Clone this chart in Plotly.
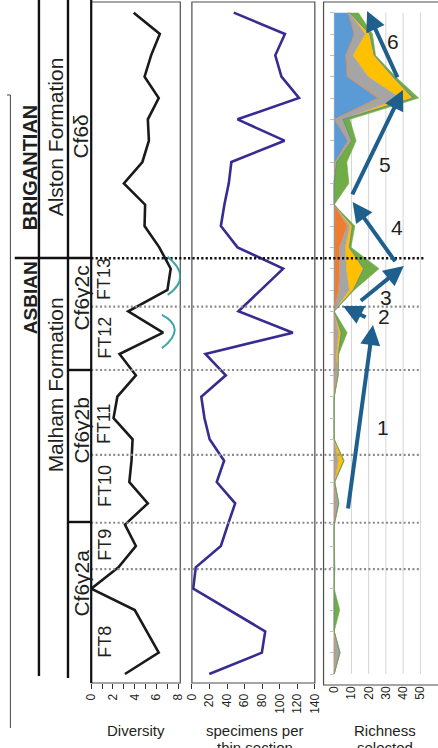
import plotly.graph_objects as go

W, H = 438, 748

# ---- data ---------------------------------------------------------------
# thin-section samples, numbered from the base (1) to the top (32)
samples = list(range(1, 33))

diversity = [3.1, 6.2, 5.1, 4.0, 0.0, 2.5, 4.1, 3.1, 5.2, 3.5, 3.7, 3.8, 2.05, 2.4, 4.1, 2.6,
             6.6, 3.4, 7.0, 7.3, 6.25, 4.9, 4.95, 3.0, 4.7, 5.3, 5.2, 6.2, 4.9, 5.5, 6.3, 3.9]

specimens = [19.8, 79.7, 83.5, 42, 1.5, 4.4, 33, 41, 49.3, 28.3, 36.7, 20.2, 14.3, 10.7, 38.6, 15.4,
             115, 53, 78, 104, 52, 33, 37, 42, 45, 105.5, 52, 122, 102, 95, 106, 47.7]

# richness of selected groups (stacked)
rich_blue = [0] * 24 + [0.5, 7.8, 0, 25, 7.4, 6.6, 11.5, 8]
rich_orange = [0] * 18 + [2.5, 3, 3, 7.5, 0, 0, 0, 0.2, 0, 1, 0.4, 0.4, 0.3, 0.3]
rich_grey = [0, 3.2, 0, 0, 0, 0, 0, 0, 2.5, 0.3, 2.3, 0, 0, 0, 2, 1.3,
             2.5, 0, 6.2, 4, 3.4, 1.5, 0, 0, 0.3, 1.7, 5, 12.3, 12, 3.8, 6.2, 0.5]
rich_gold = [0, 0, 0, 0, 0, 0.4, 0, 0, 0, 0, 3.2, 0, 0, 0, 0.3, 1.1,
             1.5, 0, 2.3, 10, 2.3, 1.5, 0, 0, 0.5, 0.3, 0, 7, 14, 12.2, 2.3, 0]
rich_navy = [0] * 27 + [0.5, 0.3, 0.3, 0.3, 0.2]
rich_green = [0, 0.3, 0, 3.2, 0, 0, 0, 0, 0.3, 0, 0.3, 0, 0, 0, 0, 0.2,
              3.5, 0, 0.6, 9, 1, 1.5, 0, 8.5, 6, 2.7, 4, 3.2, 1.5, 0.7, 1.6, 5]

rich_series = [
    ("group 1", rich_blue, "#5B9BD5"),
    ("group 2", rich_orange, "#ED7D31"),
    ("group 3", rich_grey, "#A5A5A5"),
    ("group 4", rich_gold, "#FFC000"),
    ("group 5", rich_navy, "#4472C4"),
    ("group 6", rich_green, "#70AD47"),
]

# foraminiferal zone boundaries (sample units) and stage boundary
ft_boundaries = [5.92, 8.09, 11.27, 15.25, 18.22]
stage_boundary = 20.49
ft_labels = ["FT8", "FT9", "FT10", "FT11", "FT12", "FT13"]
ft_label_pos = [2.5, 7.05, 9.8, 12.75, 16.75, 19.5]

# numbered trends on the richness panel: (label, tail x, tail y, head x, head y, label x, label y)
trend_arrows = [
    ("1", 7.9, 8.69, 22.5, 17.36, 28.2, 12.55),
    ("2", 19.1, 17.69, 5.1, 18.25, 28.8, 17.74),
    ("3", 14.6, 18.44, 40.4, 20.13, 29.8, 18.67),
    ("4", 36.0, 20.27, 10.7, 23.13, 36.5, 21.91),
    ("5", 10.1, 23.41, 39.9, 28.38, 29.2, 24.86),
    ("6", 37.1, 28.9, 19.1, 32.08, 34.3, 30.63),
]

FONT = "Liberation Sans, Arial, sans-serif"
TXT = "#231F20"


def px(x):
    return x / W


def py(y):
    return 1 - y / H


Y_DOMAIN = [py(683), py(2)]
Y_RANGE = [0.578, 32.5]

fig = go.Figure()

# diversity curve
fig.add_trace(go.Scatter(x=diversity, y=samples, mode="lines", xaxis="x", yaxis="y",
                         line=dict(color="#1A1A1A", width=2.6), showlegend=False))
# specimens per thin section
fig.add_trace(go.Scatter(x=specimens, y=samples, mode="lines", xaxis="x2", yaxis="y",
                         line=dict(color="#372C91", width=2.6), showlegend=False))
# stacked richness (horizontal stacking)
for name, vals, col in rich_series:
    fig.add_trace(go.Scatter(x=vals, y=samples, name=name, mode="lines", xaxis="x3", yaxis="y2",
                             stackgroup="rich", orientation="h", fillcolor=col,
                             line=dict(color=col, width=0.6), showlegend=False))

axis_common = dict(showgrid=False, zeroline=False, showline=False, ticks="outside",
                   ticklen=5, tickwidth=1, tickcolor="#333", tickangle=-90,
                   tickfont=dict(size=12, color=TXT, family=FONT), anchor="y")

fig.update_layout(
    width=W, height=H, margin=dict(l=0, r=0, t=0, b=0), autosize=False,
    paper_bgcolor="white", plot_bgcolor="white",
    font=dict(family=FONT, color=TXT),
    xaxis=dict(domain=[px(87), px(179)], range=[0, 8.18], tickvals=[0, 2, 4, 6, 8],
               minor=dict(tickvals=[1, 3, 5, 7], ticks="outside", ticklen=5, tickcolor="#333"),
               **axis_common),
    xaxis2=dict(domain=[px(191), px(318)], range=[0, 140.05], dtick=20, **axis_common),
    xaxis3=dict(domain=[px(327), 1], range=[-6.18, 56.18], tickvals=[0, 10, 20, 30, 40, 50],
                **{**axis_common, "ticks": ""}),
    yaxis=dict(domain=Y_DOMAIN, range=Y_RANGE, visible=False, anchor="x"),
    yaxis2=dict(domain=Y_DOMAIN, range=Y_RANGE, matches="y", anchor="free", position=px(338),
                overlaying="y", showgrid=False, zeroline=False, showline=False,
                showticklabels=False, ticks="outside", ticklen=4, tickcolor="#BFBFBF",
                tickvals=samples),
)

shapes = []

# richness gridlines over the sampled interval
for gx in [0, 10, 20, 30, 40, 50]:
    shapes.append(dict(type="line", xref="x3", yref="y", x0=gx, x1=gx, y0=samples[0], y1=samples[-1],
                       line=dict(color="#D4D4D4", width=1), layer="below"))

# panel frames
for x0, x1, y1 in [(87, 179, 683), (191, 318, 683), (327, 446, 685)]:
    shapes.append(dict(type="rect", xref="paper", yref="paper", x0=px(x0), x1=px(x1),
                       y0=py(y1), y1=py(2), line=dict(color="#4D4D4D", width=1.2)))

# zone boundaries across all panels
for b in ft_boundaries:
    shapes.append(dict(type="line", xref="paper", yref="y", x0=px(87), x1=px(428), y0=b, y1=b,
                       line=dict(color="#8C8C8C", width=2.2, dash="2px,2.4px")))
shapes.append(dict(type="line", xref="paper", yref="y", x0=px(87), x1=px(432),
                   y0=stage_boundary, y1=stage_boundary,
                   line=dict(color="#111", width=2.6, dash="2.2px,2.2px")))


# stratigraphic columns
def seg(x0, y0, x1, y1, w=2.4, c="#111"):
    shapes.append(dict(type="line", xref="paper", yref="paper", x0=px(x0), x1=px(x1),
                       y0=py(y0), y1=py(y1), line=dict(color=c, width=w)))


seg(33, 0, 33, 676)
seg(63, 0, 63, 678)
seg(87, 0, 87, 683, w=2.2)
seg(8, 258, 87, 258)
seg(63, 370, 87, 370)
seg(63, 522, 87, 522)
seg(0, 95, 3.5, 95, w=1, c="#444")
seg(3.5, 95, 3.5, 728, w=1, c="#444")

# arcs beside the diversity curve
shapes.append(dict(type="path", xref="x", yref="y", path="M 7.02,20.56 Q 9.34,19.6 7.02,18.77",
                   line=dict(color="#3AA5A8", width=2)))
shapes.append(dict(type="path", xref="x", yref="y", path="M 6.49,17.83 Q 8.85,17.21 6.49,16.27",
                   line=dict(color="#3AA5A8", width=2)))

fig.update_layout(shapes=shapes)

ann = []


def vtext(text, x, y, size, bold=False, yref="paper"):
    t = f"<b>{text}</b>" if bold else text
    ann.append(dict(text=t, x=px(x), y=(py(y) if yref == "paper" else y), xref="paper", yref=yref,
                    textangle=-90, showarrow=False, xanchor="center", yanchor="middle",
                    font=dict(size=size, color=TXT, family=FONT)))


vtext("BRIGANTIAN", 24, 167, 20, bold=True)
vtext("ASBIAN", 24, 298, 19, bold=True)
vtext("Alston Formation", 51, 137, 21)
vtext("Malham Formation", 51, 385, 21)
vtext("Cf6δ", 76, 137, 21)
vtext("Cf6γ2c", 76, 298, 21)
vtext("Cf6γ2b", 76, 430, 21)
vtext("Cf6γ2a", 76, 583, 21)
for lab, pos in zip(ft_labels, ft_label_pos):
    vtext(lab, 101, pos, 18, yref="y")

# axis titles
for text, x, y in [("Diversity", 133, 730), ("specimens per", 256, 730), ("thin section", 256, 747),
                   ("Richness", 390, 730), ("selected", 390, 747)]:
    ann.append(dict(text=text, x=px(x), y=py(y), xref="paper", yref="paper", showarrow=False,
                    xanchor="center", yanchor="middle", font=dict(size=15, color=TXT, family=FONT)))

# trend arrows
for lab, tx, ty, hx, hy, lx, ly in trend_arrows:
    ann.append(dict(x=hx, y=hy, ax=tx, ay=ty, xref="x3", yref="y", axref="x3", ayref="y",
                    text="", showarrow=True, arrowhead=2, arrowsize=1.0, arrowwidth=4,
                    arrowcolor="#1F5F8E", standoff=0, startstandoff=0))
    ann.append(dict(x=lx, y=ly, xref="x3", yref="y", text=lab, showarrow=False,
                    xanchor="center", yanchor="middle", font=dict(size=21, color=TXT, family=FONT)))

fig.update_layout(annotations=ann)

fig.write_html("out.html")
